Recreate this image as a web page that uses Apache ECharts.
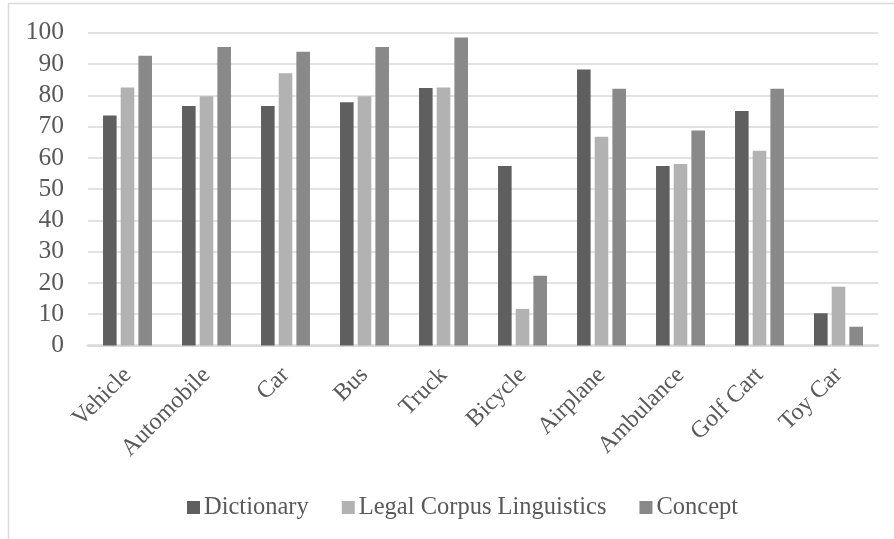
<!DOCTYPE html>
<html>
<head>
<meta charset="utf-8">
<script src="https://cdn.jsdelivr.net/npm/echarts@6/dist/echarts.min.js"></script>
<style>
  html, body { margin: 0; padding: 0; background: #fff; }
  #chart { width: 894px; height: 539px; }
</style>
</head>
<body>
<div id="chart"></div>
<script>
// Vehicle categories and scores per method
const categories = ['Vehicle', 'Automobile', 'Car', 'Bus', 'Truck', 'Bicycle', 'Airplane', 'Ambulance', 'Golf Cart', 'Toy Car'];
const seriesNames = ['Dictionary', 'Legal Corpus Linguistics', 'Concept'];
const dictionary = [73.5, 76.6, 76.6, 77.8, 82.3, 57.4, 88.2, 57.4, 75.0, 10.3];
const legalCorpus = [82.5, 79.7, 87.0, 79.7, 82.5, 11.7, 66.7, 58.0, 62.3, 18.8];
const concept = [92.6, 95.4, 93.9, 95.4, 98.5, 22.3, 82.1, 68.7, 82.1, 6.0];
const yTicks = { min: 0, max: 100, step: 10 };

const FONT = '"Liberation Serif", "DejaVu Serif", serif';
const TEXT = '#595959';
const colors = ['#5f5f5f', '#b2b2b2', '#898989'];
const values = [dictionary, legalCorpus, concept];

const chart = echarts.init(document.getElementById('chart'), null, { renderer: 'canvas' });

chart.setOption({
  animation: false,
  backgroundColor: '#ffffff',
  color: colors,
  graphic: [{
    type: 'rect',
    silent: true,
    shape: { x: 8.5, y: 3.5, width: 1000, height: 1000 },
    style: { fill: 'none', stroke: '#d9d9d9', lineWidth: 1.5 }
  }],
  grid: { left: 88, right: 16, top: 32.7, bottom: 193.5, containLabel: false },
  legend: {
    data: seriesNames,
    left: 182,
    top: 490,
    itemWidth: 13,
    itemHeight: 13,
    itemGap: 33,
    icon: 'rect',
    textStyle: { fontFamily: FONT, fontSize: 24.5, color: TEXT, padding: [0, 0, 0, -1] }
  },
  xAxis: {
    type: 'category',
    data: categories,
    axisTick: { show: false },
    axisLine: { lineStyle: { color: '#d9d9d9', width: 2.7 } },
    axisLabel: {
      rotate: 45,
      interval: 0,
      margin: 26,
      fontFamily: FONT,
      fontSize: 24,
      color: TEXT
    }
  },
  yAxis: {
    type: 'value',
    min: yTicks.min,
    max: yTicks.max,
    interval: yTicks.step,
    axisLine: { show: false },
    axisTick: { show: false },
    splitLine: { lineStyle: { color: '#d9d9d9', width: 1.5 } },
    axisLabel: { margin: 24, fontFamily: FONT, fontSize: 25.5, color: TEXT }
  },
  series: seriesNames.map((name, i) => ({
    name: name,
    type: 'bar',
    data: values[i],
    barWidth: 13.6,
    barGap: '30%',
    itemStyle: { color: colors[i] }
  }))
});
</script>
</body>
</html>
